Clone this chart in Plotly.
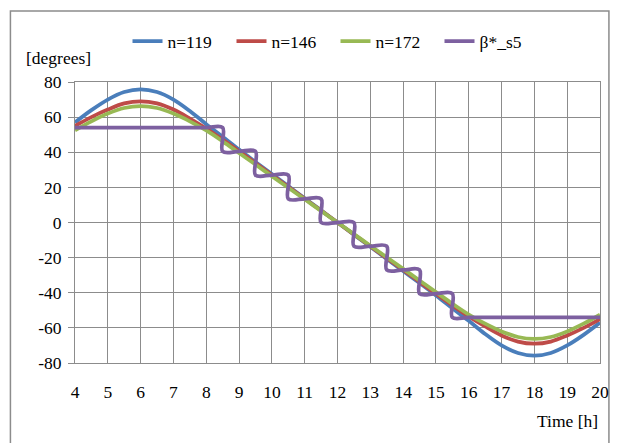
import plotly.graph_objects as go

# ---- data ----
time_h = [4, 4.5, 5, 5.5, 6, 6.5, 7, 7.5, 8, 8.5, 9, 9.5, 10, 10.5, 11, 11.5, 12,
          12.5, 13, 13.5, 14, 14.5, 15, 15.5, 16, 16.5, 17, 17.5, 18, 18.5, 19, 19.5, 20]

n119 = [57, 64, 70, 74.3, 75.8, 74.3, 70, 63.5, 56, 48.8, 41.5, 34.5, 27.6, 20.7, 13.8, 6.9, 0,
        -6.9, -13.8, -20.7, -27.6, -34.5, -41.5, -48.8, -56, -63.5, -70, -74.3, -75.8, -74.3, -70, -64, -57]
n146 = [55, 60, 64.3, 67.8, 69, 67.8, 64.3, 59.2, 53.5, 47.2, 40.6, 33.8, 27, 20.3, 13.5, 6.8, 0,
        -6.8, -13.5, -20.3, -27, -33.8, -40.6, -47.2, -53.5, -59.2, -64.3, -67.8, -69, -67.8, -64.3, -60, -55]
n172 = [52.5, 57.6, 62, 65.2, 66.3, 65.2, 62, 57.6, 52.4, 46.2, 39.6, 33, 26.4, 19.8, 13.2, 6.6, 0,
        -6.6, -13.2, -19.8, -26.4, -33, -39.6, -46.2, -52.4, -57.6, -62, -65.2, -66.3, -65.2, -62, -57.6, -52.5]

beta_x = [4, 5, 6, 7, 8, 8.5, 8.5, 9, 9.5, 9.5, 10, 10.5, 10.5, 11, 11.5, 11.5, 12, 12.5, 12.5,
          13, 13.5, 13.5, 14, 14.5, 14.5, 15, 15.5, 15.5, 16, 17, 18, 19, 20]
beta_y = [54, 54, 54, 54, 54, 54, 40.5, 40.5, 40.5, 27, 27, 27, 13.5, 13.5, 13.5, 0, 0, 0, -13.5,
          -13.5, -13.5, -27, -27, -27, -40.5, -40.5, -40.5, -54, -54, -54, -54, -54, -54]

x_ticks = list(range(4, 21))
y_ticks = [-80, -60, -40, -20, 0, 20, 40, 60, 80]

FONT = "Liberation Serif"
GRID = "#8c8c8c"
FS = 17.5

fig = go.Figure()
fig.add_trace(go.Scatter(x=time_h, y=n119, name="n=119", mode="lines",
                         line=dict(color="#4A7EBB", width=3.8, shape="spline")))
fig.add_trace(go.Scatter(x=time_h, y=n146, name="n=146", mode="lines",
                         line=dict(color="#BE4B48", width=3.8, shape="spline")))
fig.add_trace(go.Scatter(x=time_h, y=n172, name="n=172", mode="lines",
                         line=dict(color="#98B954", width=3.8, shape="spline")))
fig.add_trace(go.Scatter(x=beta_x, y=beta_y, name="β*_s5", mode="lines",
                         line=dict(color="#7D60A0", width=3.8, shape="spline", smoothing=1)))

fig.update_layout(
    width=621, height=443,
    margin=dict(l=75, r=18, t=82, b=80),
    paper_bgcolor="white", plot_bgcolor="white",
    font=dict(family=FONT, size=FS, color="black"),
    showlegend=True,
    legend=dict(orientation="h", x=0.1, xanchor="left", y=1.145, yanchor="middle",
                font=dict(family=FONT, size=FS), bgcolor="rgba(0,0,0,0)",
                entrywidth=59, entrywidthmode="pixels",
                itemwidth=30, tracegroupgap=0),
    xaxis=dict(range=[4, 20], tickvals=x_ticks, ticktext=[str(v) for v in x_ticks],
               showgrid=True, gridcolor=GRID, gridwidth=1, zeroline=False,
               showline=True, linecolor=GRID, mirror=True, ticks="", ticklen=0,
               ticklabelstandoff=13, tickfont=dict(family=FONT, size=FS)),
    yaxis=dict(range=[-80, 80], tickvals=y_ticks, ticktext=[str(v) for v in y_ticks],
               showgrid=True, gridcolor=GRID, gridwidth=1, zeroline=False,
               showline=True, linecolor=GRID, mirror=True, ticks="outside", ticklen=6,
               tickcolor=GRID, ticklabelstandoff=3, tickfont=dict(family=FONT, size=FS)),
    annotations=[
        dict(text="[degrees]", xref="paper", yref="paper", x=-0.097, y=1.085,
             xanchor="left", yanchor="middle", showarrow=False,
             font=dict(family=FONT, size=FS)),
        dict(text="Time [h]", xref="paper", yref="paper", x=1.0, y=-0.206,
             xanchor="right", yanchor="middle", showarrow=False,
             font=dict(family=FONT, size=FS)),
    ],
    shapes=[dict(type="rect", xref="paper", yref="paper",
                 x0=-0.123, x1=1.017, y0=-0.32, y1=1.253,
                 line=dict(color="#8c8c8c", width=1.5), layer="below")],
)

fig.write_html("out.html")
